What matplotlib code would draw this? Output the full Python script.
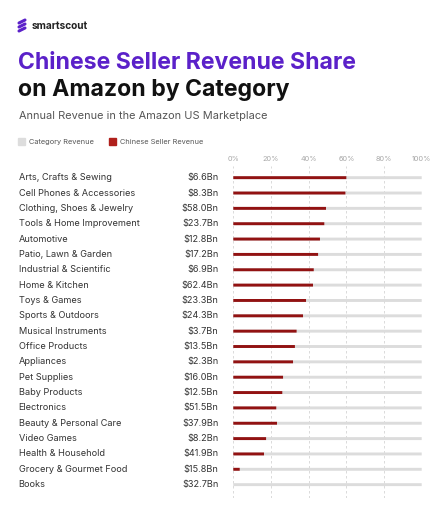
import matplotlib
matplotlib.use("Agg")
from matplotlib import pyplot as plt
from matplotlib import transforms
from matplotlib.patches import Rectangle

CATEGORIES = [
    "Arts, Crafts & Sewing", "Cell Phones & Accessories", "Clothing, Shoes & Jewelry",
    "Tools & Home Improvement", "Automotive", "Patio, Lawn & Garden",
    "Industrial & Scientific", "Home & Kitchen", "Toys & Games", "Sports & Outdoors",
    "Musical Instruments", "Office Products", "Appliances", "Pet Supplies",
    "Baby Products", "Electronics", "Beauty & Personal Care", "Video Games",
    "Health & Household", "Grocery & Gourmet Food", "Books",
]
REVENUE_LABELS = [
    "$6.6Bn", "$8.3Bn", "$58.0Bn", "$23.7Bn", "$12.8Bn", "$17.2Bn", "$6.9Bn",
    "$62.4Bn", "$23.3Bn", "$24.3Bn", "$3.7Bn", "$13.5Bn", "$2.3Bn", "$16.0Bn",
    "$12.5Bn", "$51.5Bn", "$37.9Bn", "$8.2Bn", "$41.9Bn", "$15.8Bn", "$32.7Bn",
]
CHINESE_SHARE = [
    60.0, 59.5, 49.2, 48.3, 46.0, 45.0, 42.7, 42.3, 38.6, 37.0,
    33.6, 32.7, 31.7, 26.4, 26.0, 22.8, 23.2, 17.4, 16.3, 3.4, 0.0,
]
TICKS = [0, 20, 40, 60, 80, 100]

W, H = 439, 512
PURPLE = "#5b21c9"
GREY_BAR = "#dcdcdc"
RED_BAR = "#921212"
FONT = "Inter"


def fx(px: float) -> float:
    return px / W


def fy(py: float) -> float:
    return 1 - py / H


def main() -> None:
    fig = plt.figure(figsize=(W / 100, H / 100), dpi=100)
    fig.patch.set_facecolor("white")

    # chart area
    ax = fig.add_axes([fx(233.3), fy(498), fx(421.7) - fx(233.3), (498 - 166) / H])
    ax.set_xlim(0, 100)
    ax.set_ylim(20.87, -0.76)
    for s in ax.spines.values():
        s.set_visible(False)
    ax.set_yticks([])
    ax.xaxis.tick_top()
    ax.set_xticks(TICKS)
    ax.set_xticklabels([f"{t}%" for t in TICKS], fontsize=5.3, color="#a8a8a8",
                       family=FONT)
    ax.tick_params(axis="x", length=0, pad=3)
    for t in TICKS:
        ax.axvline(t, color="#d4d4d4", linewidth=0.6, linestyle=(0, (3, 3)), zorder=0)

    rows = list(range(len(CATEGORIES)))
    ax.barh(rows, [100] * len(rows), height=0.19, color=GREY_BAR, zorder=1, snap=False)
    ax.barh(rows, CHINESE_SHARE, height=0.19, color=RED_BAR, zorder=2, snap=False)

    # row labels
    trans = transforms.blended_transform_factory(fig.transFigure, ax.transData)
    for i, (name, rev) in enumerate(zip(CATEGORIES, REVENUE_LABELS)):
        ax.text(fx(18.7), i, name, transform=trans, ha="left", va="center",
                fontsize=6.6, color="#333333", family=FONT)
        ax.text(fx(218.5), i, rev, transform=trans, ha="right", va="center",
                fontsize=6.6, color="#333333", family=FONT)

    # header
    for x0, y0, x1, y1 in [(19, 23, 25, 20), (19, 27, 25, 24), (19, 31, 25, 28)]:
        fig.add_artist(plt.Line2D([fx(x0), fx(x1)], [fy(y0), fy(y1)], color=PURPLE,
                                  linewidth=2.2, solid_capstyle="round"))
    fig.text(fx(32), fy(26), "smartscout", fontsize=7.3, fontweight="bold",
             color="#222222", family=FONT, va="center", ha="left")
    fig.text(fx(18), fy(63), "Chinese Seller Revenue Share", fontsize=16.6,
             fontweight="bold", color=PURPLE, family=FONT, va="center", ha="left")
    fig.text(fx(18), fy(90), "on Amazon by Category", fontsize=16.6,
             fontweight="bold", color="#111111", family=FONT, va="center", ha="left")
    fig.text(fx(18.7), fy(116), "Annual Revenue in the Amazon US Marketplace",
             fontsize=7.9, color="#555555", family=FONT, va="center", ha="left")

    # legend
    fig.add_artist(Rectangle((fx(18.5), fy(145)), fx(7), 7 / H, color="#dddddd",
                             transform=fig.transFigure))
    fig.text(fx(29.5), fy(141.7), "Category Revenue", fontsize=5.3, color="#555555",
             family=FONT, va="center", ha="left")
    fig.add_artist(Rectangle((fx(109.5), fy(145)), fx(7), 7 / H, color="#b0201c",
                             transform=fig.transFigure))
    fig.text(fx(120), fy(141.7), "Chinese Seller Revenue", fontsize=5.3, color="#555555",
             family=FONT, va="center", ha="left")

    fig.savefig("out.png", dpi=100)
    plt.close()


if __name__ == "__main__":
    main()
